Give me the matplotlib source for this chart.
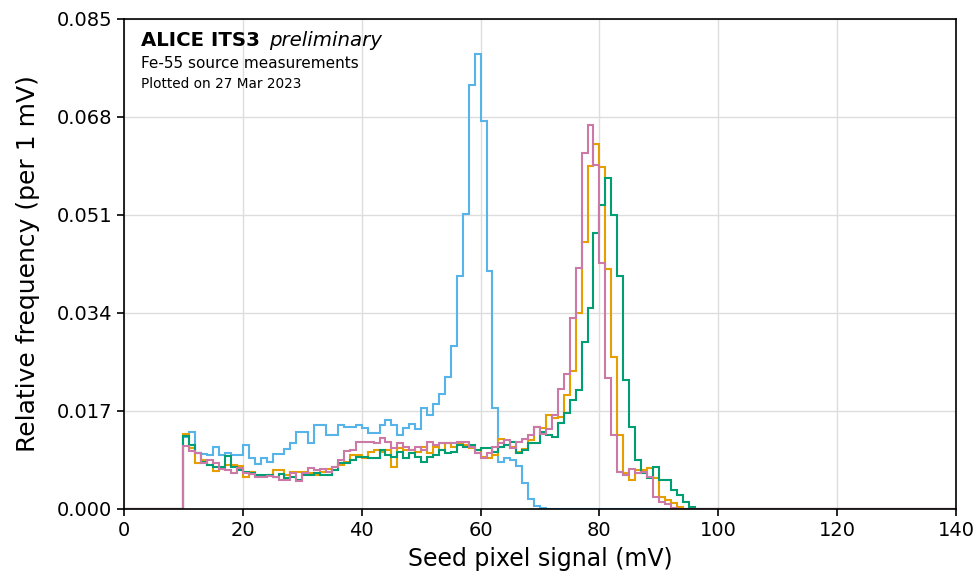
import numpy as np
import matplotlib.pyplot as plt

# 1 mV bins, each series starts at the 10 mV threshold
first_bin = 10
bin_edges = np.arange(0, 141, 1)

blue = [0.0125, 0.0134, 0.0098, 0.0096, 0.0093, 0.0108, 0.0093, 0.0097, 0.0093, 0.0094,
        0.0111, 0.0088, 0.0078, 0.0088, 0.0082, 0.0095, 0.0096, 0.0104, 0.0114, 0.0134,
        0.0134, 0.0114, 0.0145, 0.0145, 0.0128, 0.0128, 0.0145, 0.0142, 0.0142, 0.0145,
        0.0140, 0.0131, 0.0131, 0.0145, 0.0154, 0.0145, 0.0128, 0.0140, 0.0148, 0.0138,
        0.0175, 0.0163, 0.0182, 0.0200, 0.0229, 0.0283, 0.0404, 0.0512, 0.0735, 0.0789,
        0.0673, 0.0412, 0.0176, 0.0082, 0.0089, 0.0085, 0.0075, 0.0045, 0.0017, 0.0005,
        0.0001]

orange = [0.0130, 0.0106, 0.0079, 0.0085, 0.0076, 0.0066, 0.0070, 0.0076, 0.0076, 0.0074,
          0.0055, 0.0065, 0.0058, 0.0058, 0.0059, 0.0068, 0.0068, 0.0059, 0.0065, 0.0065,
          0.0065, 0.0062, 0.0059, 0.0065, 0.0070, 0.0072, 0.0076, 0.0082, 0.0094, 0.0094,
          0.0088, 0.0099, 0.0102, 0.0099, 0.0102, 0.0073, 0.0105, 0.0102, 0.0102, 0.0099,
          0.0108, 0.0097, 0.0108, 0.0102, 0.0114, 0.0108, 0.0114, 0.0111, 0.0105, 0.0102,
          0.0091, 0.0088, 0.0093, 0.0122, 0.0111, 0.0108, 0.0099, 0.0104, 0.0120, 0.0143,
          0.0140, 0.0163, 0.0157, 0.0160, 0.0198, 0.0240, 0.0340, 0.0464, 0.0595, 0.0634,
          0.0594, 0.0417, 0.0264, 0.0128, 0.0062, 0.0050, 0.0068, 0.0068, 0.0071, 0.0053,
          0.0021, 0.0015, 0.0010, 0.0004]

green = [0.0126, 0.0111, 0.0097, 0.0082, 0.0076, 0.0073, 0.0072, 0.0092, 0.0073, 0.0068,
         0.0065, 0.0063, 0.0059, 0.0059, 0.0059, 0.0056, 0.0060, 0.0053, 0.0056, 0.0050,
         0.0059, 0.0059, 0.0062, 0.0059, 0.0059, 0.0068, 0.0079, 0.0079, 0.0085, 0.0091,
         0.0091, 0.0088, 0.0088, 0.0102, 0.0094, 0.0091, 0.0099, 0.0088, 0.0097, 0.0091,
         0.0082, 0.0091, 0.0093, 0.0102, 0.0097, 0.0099, 0.0111, 0.0108, 0.0111, 0.0102,
         0.0105, 0.0105, 0.0099, 0.0108, 0.0111, 0.0117, 0.0097, 0.0102, 0.0115, 0.0115,
         0.0134, 0.0128, 0.0125, 0.0149, 0.0166, 0.0189, 0.0206, 0.0290, 0.0349, 0.0478,
         0.0527, 0.0574, 0.0510, 0.0404, 0.0224, 0.0143, 0.0085, 0.0062, 0.0053, 0.0073,
         0.0050, 0.0050, 0.0033, 0.0024, 0.0013, 0.0004]

pink = [0.0109, 0.0101, 0.0098, 0.0080, 0.0085, 0.0079, 0.0070, 0.0068, 0.0062, 0.0071,
        0.0062, 0.0060, 0.0056, 0.0056, 0.0058, 0.0056, 0.0051, 0.0050, 0.0062, 0.0048,
        0.0062, 0.0071, 0.0067, 0.0069, 0.0065, 0.0072, 0.0085, 0.0100, 0.0102, 0.0117,
        0.0117, 0.0117, 0.0114, 0.0123, 0.0117, 0.0105, 0.0114, 0.0108, 0.0102, 0.0108,
        0.0102, 0.0117, 0.0111, 0.0114, 0.0115, 0.0115, 0.0117, 0.0117, 0.0108, 0.0097,
        0.0088, 0.0097, 0.0108, 0.0114, 0.0120, 0.0105, 0.0117, 0.0122, 0.0128, 0.0142,
        0.0130, 0.0139, 0.0163, 0.0209, 0.0235, 0.0331, 0.0418, 0.0617, 0.0666, 0.0597,
        0.0426, 0.0227, 0.0128, 0.0064, 0.0059, 0.0070, 0.0062, 0.0064, 0.0056, 0.0021,
        0.0013, 0.0008, 0.0002]

series = [
    (blue, '#56B4E9'),
    (orange, '#E69F00'),
    (green, '#009E73'),
    (pink, '#CC79A7'),
]

fig = plt.figure(figsize=(9.77, 5.74), dpi=100)
ax = fig.add_axes([124 / 977, 65 / 574, 832 / 977, 490 / 574])

for vals, col in series:
    h = np.zeros(len(bin_edges) - 1)
    h[first_bin:first_bin + len(vals)] = vals
    ax.stairs(h, bin_edges, color=col, linewidth=1.5)

ax.set_xlim(0, 140)
ax.set_ylim(0, 0.085)
ax.set_xticks(np.arange(0, 141, 20))
ax.set_yticks(np.linspace(0, 0.085, 6))
ax.yaxis.set_major_formatter(plt.FormatStrFormatter('%.3f'))
ax.tick_params(labelsize=14, width=1.2, length=5)
for s in ax.spines.values():
    s.set_linewidth(1.2)
ax.grid(True, color='#dddddd', linewidth=1)
ax.set_axisbelow(True)

ax.set_xlabel('Seed pixel signal (mV)', fontsize=17, labelpad=5)
ax.set_ylabel('Relative frequency (per 1 mV)', fontsize=18, labelpad=12)

ax.text(0.02, 0.975, 'ALICE ITS3', transform=ax.transAxes, fontsize=14.2,
        fontweight='bold', va='top')
ax.text(0.174, 0.975, 'preliminary', transform=ax.transAxes, fontsize=14.2,
        fontstyle='italic', va='top')
ax.text(0.02, 0.925, 'Fe-55 source measurements', transform=ax.transAxes,
        fontsize=11, va='top')
ax.text(0.02, 0.882, 'Plotted on 27 Mar 2023', transform=ax.transAxes,
        fontsize=9.8, va='top')

fig.savefig('out.png', dpi=100)
